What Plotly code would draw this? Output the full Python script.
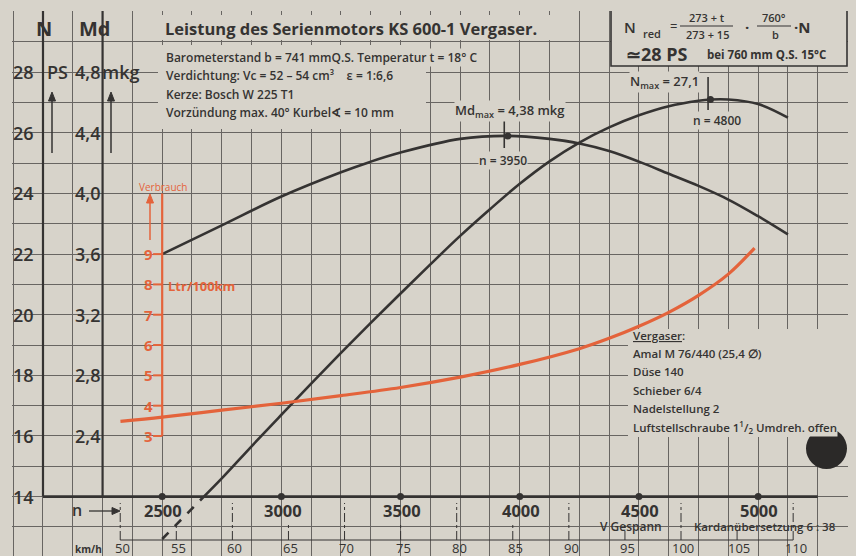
import plotly.graph_objects as go

# ---------------- data ----------------
# engine power N [PS] vs engine speed n [U/min]; first segment (below 14 PS) is dashed
n_rpm = [2500, 2675, 2750, 2875, 3000, 3125, 3250, 3375, 3500, 3625, 3750, 3875,
         4000, 4125, 4250, 4375, 4500, 4625, 4750, 4800, 4875, 5000, 5125]
n_ps = [12.6, 14.0, 14.6, 15.66, 16.7, 17.73, 18.74, 19.73, 20.7, 21.66, 22.6, 23.48,
        24.32, 25.06, 25.68, 26.18, 26.58, 26.88, 27.06, 27.1, 27.1, 26.95, 26.5]

# torque Md [mkg]
md_rpm = [2500, 2750, 3000, 3250, 3375, 3500, 3750, 3950, 4125, 4250, 4375, 4500,
          4625, 4750, 4875, 5000, 5125]
md_mkg = [3.60, 3.79, 3.98, 4.14, 4.21, 4.27, 4.36, 4.38, 4.36, 4.33, 4.28, 4.21,
          4.13, 4.05, 3.96, 3.85, 3.73]

# fuel consumption [Ltr/100km]
v_rpm = [2325, 2500, 2750, 3000, 3250, 3500, 3750, 4000, 4250, 4375, 4500, 4625,
         4750, 4875, 4985]
v_l = [3.48, 3.62, 3.85, 4.08, 4.33, 4.6, 4.94, 5.36, 5.88, 6.22, 6.62, 7.08,
       7.64, 8.34, 9.2]

n_max_rpm, n_max_ps = 4800, 27.1
md_max_rpm, md_max_mkg = 3950, 4.38

rpm_ticks = [2500, 3000, 3500, 4000, 4500, 5000]
ps_ticks = [14, 16, 18, 20, 22, 24, 26, 28]
md_ticks = [2.4, 2.8, 3.2, 3.6, 4.0, 4.4, 4.8]
v_ticks = [3, 4, 5, 6, 7, 8, 9]
kmh_ticks = [50, 55, 60, 65, 70, 75, 80, 85, 90, 95, 100, 105, 110]

# ---------------- scale relations of the original sheet ----------------
MD_PER_PS, MD_OFF = 0.2, -0.8          # Md = 0.2*N - 0.8  (28 PS <-> 4,8 mkg)
V_OFF = 13                             # N = Verbrauch + 13 (9 l <-> 22 PS)
KMH0_RPM, RPM_PER_KMH = 2324, 47.05    # V Gespann, Kardanuebersetzung 6:38


def kmh2rpm(k):
    return KMH0_RPM + (k - 50) * RPM_PER_KMH


# ---------------- styling ----------------
PAPER = "#d7d3ca"
GRID = "#686562"
INK = "#353332"
ORANGE = "#e4633b"
FONT = "Open Sans"

W, H = 856, 556
ML, MR, MT, MB = 12, 8, 11, 0
XR = [1870, 5377]
YR = [12.04, 30.02]


def X(px):
    return XR[0] + (px - ML) / (W - ML - MR) * (XR[1] - XR[0])


def Y(py):
    return YR[1] - (py - MT) / (H - MT - MB) * (YR[1] - YR[0])


fig = go.Figure()

SPL = dict(shape="spline", smoothing=1.0)
fig.add_trace(go.Scatter(x=n_rpm[:2], y=n_ps[:2], mode="lines",
                         line=dict(color=INK, width=2.6, dash="dash")))
fig.add_trace(go.Scatter(x=n_rpm[1:], y=n_ps[1:], mode="lines",
                         line=dict(color=INK, width=2.6, **SPL)))
fig.add_trace(go.Scatter(x=md_rpm, y=md_mkg, yaxis="y3", mode="lines",
                         line=dict(color=INK, width=2.6, **SPL)))
fig.add_trace(go.Scatter(x=v_rpm, y=v_l, yaxis="y2", mode="lines",
                         line=dict(color=ORANGE, width=3.2, **SPL)))
fig.add_trace(go.Scatter(x=[n_max_rpm], y=[n_max_ps], mode="markers",
                         marker=dict(color=INK, size=7)))
fig.add_trace(go.Scatter(x=[md_max_rpm], y=[md_max_mkg], yaxis="y3", mode="markers",
                         marker=dict(color=INK, size=7)))
fig.add_trace(go.Scatter(x=rpm_ticks, y=[ps_ticks[0]] * len(rpm_ticks), mode="markers",
                         marker=dict(color=INK, size=7)))

shapes = []
for (a, b, c, d) in [(135, 567, 15, 40), (158, 426, 45, 129), (628, 848, 329, 437)]:
    shapes.append(dict(type="rect", xref="x", yref="y", x0=X(a), x1=X(b), y0=Y(d), y1=Y(c),
                       fillcolor=PAPER, line=dict(width=0), layer="between"))
shapes.append(dict(type="rect", xref="x", yref="y", x0=X(611), x1=X(847), y0=Y(66), y1=Y(10),
                   fillcolor=PAPER, line=dict(color=INK, width=1.6), layer="between"))
for (a, b) in [(680, 733), (757, 791)]:
    shapes.append(dict(type="line", xref="x", yref="y", x0=X(a), x1=X(b), y0=Y(26), y1=Y(26),
                       line=dict(color=INK, width=1.2)))
for xv in (2000, 2250):
    shapes.append(dict(type="line", xref="x", yref="y", x0=xv, x1=xv, y0=ps_ticks[0], y1=YR[1],
                       line=dict(color=INK, width=2.2)))
shapes.append(dict(type="line", xref="x", yref="y", x0=2000, x1=5250, y0=ps_ticks[0], y1=ps_ticks[0],
                   line=dict(color=INK, width=2.6)))
shapes.append(dict(type="line", xref="x", yref="y2", x0=2500, x1=2500, y0=v_ticks[0], y1=11,
                   line=dict(color=ORANGE, width=2.2)))
for v in v_ticks:
    shapes.append(dict(type="line", xref="x", yref="y2", x0=2462, x1=2500, y0=v, y1=v,
                       line=dict(color=ORANGE, width=2)))
shapes.append(dict(type="line", xref="x", yref="y", x0=n_max_rpm - 10, x1=n_max_rpm - 10,
                   y0=Y(110), y1=Y(77), line=dict(color=INK, width=1.6)))
shapes.append(dict(type="line", xref="x", yref="y", x0=md_max_rpm - 15, x1=md_max_rpm - 15,
                   y0=Y(148), y1=Y(119), line=dict(color=INK, width=1.6)))
shapes.append(dict(type="line", xref="x", yref="y", x0=kmh2rpm(kmh_ticks[0]), x1=kmh2rpm(kmh_ticks[-1]),
                   y0=Y(540), y1=Y(540), line=dict(color=INK, width=1)))
for k in kmh_ticks:
    top = 503 if k % 10 == 0 else 522
    shapes.append(dict(type="line", xref="x", yref="y", x0=kmh2rpm(k), x1=kmh2rpm(k),
                       y0=Y(540), y1=Y(top), line=dict(color=INK, width=1, dash="dashdot")))
shapes.append(dict(type="circle", xref="x", yref="y", x0=X(806), x1=X(847), y0=Y(469), y1=Y(428),
                   fillcolor="#2b2928", line=dict(width=0), layer="above"))


def varrow(px, ptop, pbot, col):
    shapes.append(dict(type="line", xref="x", yref="y", x0=X(px), x1=X(px), y0=Y(pbot), y1=Y(ptop + 6),
                       line=dict(color=col, width=1.5)))
    shapes.append(dict(type="path", xref="x", yref="y",
                       path=f"M {X(px - 3.5)} {Y(ptop + 9)} L {X(px)} {Y(ptop)} L {X(px + 3.5)} {Y(ptop + 9)} Z",
                       fillcolor=col, line=dict(color=col, width=1)))


varrow(52, 92, 153, INK)
varrow(111, 92, 153, INK)
varrow(150, 194, 240, ORANGE)
shapes.append(dict(type="line", xref="x", yref="y", x0=X(89), x1=X(115), y0=Y(511), y1=Y(511),
                   line=dict(color=INK, width=1.3)))
shapes.append(dict(type="path", xref="x", yref="y",
                   path=f"M {X(112)} {Y(507.5)} L {X(120)} {Y(511)} L {X(112)} {Y(514.5)} Z",
                   fillcolor=INK, line=dict(color=INK, width=1)))

ann = []


def T(px, py, text, size=12, color=INK, xanchor="center", bg=None, weight=None, x=None, y=None,
      yref="y"):
    f = dict(size=size, color=color, family=FONT)
    if weight:
        f["weight"] = weight
    d = dict(x=X(px) if x is None else x, y=Y(py) if y is None else y, xref="x", yref=yref,
             text=text, showarrow=False, font=f, xanchor=xanchor, yanchor="middle", borderpad=0)
    if bg:
        d["bgcolor"] = bg
    ann.append(d)


T(351, 28, "<b>Leistung des Serienmotors KS 600-1 Vergaser.</b>", size=16.5)
T(44, 28, "<b>N</b>", size=20)
T(95, 28, "<b>Md</b>", size=20)

info = ["Barometerstand b = 741 mmQ.S. Temperatur t = 18° C",
        "Verdichtung: Vc = 52 – 54 cm³\u00a0\u00a0\u00a0 ε = 1:6,6",
        "Kerze: Bosch W 225 T1",
        "Vorzündung max. 40° Kurbel∢ = 10 mm"]
for i, s in enumerate(info):
    T(165, 57 + i * 18.5, s, size=12, xanchor="left", bg=PAPER if i == 0 else None, weight=600)

T(630, 27, "N", size=15, weight=600)
T(652, 33, "red", size=11, weight=600)
T(673, 26, "=", size=13)
T(707, 17, "273 + t", size=11, weight=600)
T(707, 34, "273 + 15", size=11, weight=600)
T(747, 27, "·", size=15, weight=700)
T(774, 17, "760°", size=11, weight=600)
T(775, 34, "b", size=11, weight=600)
T(802, 27, "·N", size=15, weight=700)
T(657, 54, "<b>≃28 PS</b>", size=18)
T(766, 54, "bei 760 mm Q.S. 15°C", size=11.5, weight=700)

for v in ps_ticks:
    T(0, 0, str(v), size=18, x=X(23), y=v, weight=600)
for m in md_ticks:
    T(0, 0, f"{m:.1f}".replace(".", ","), size=18, x=X(87), y=m, yref="y3", weight=600)
T(57, 72, "PS", size=18, weight=600)
T(120, 72, "mkg", size=18, weight=600)

for v in v_ticks:
    T(0, 0, f"<b>{v}</b>", size=15, color=ORANGE, x=X(148), y=v, yref="y2")
T(167, 286, "<b>Ltr/100km</b>", size=13, color=ORANGE, xanchor="left")
T(163, 187, "Verbrauch", size=10, color=ORANGE)

T(510, 111, "Md<sub>max</sub> = 4,38 mkg", size=13, bg=PAPER, weight=600)
T(503, 160, "n = 3950", size=12, bg=PAPER, weight=600)
T(664, 82, "N<sub>max</sub> = 27,1", size=13, bg=PAPER, weight=600)
T(717, 120, "n = 4800", size=12, bg=PAPER, weight=600)

verg = ["<u>Vergaser</u>:", "Amal M 76/440 (25,4 ∅)", "Düse 140", "Schieber 6/4",
        "Nadelstellung 2", "Luftstellschraube 1<sup>1</sup>/<sub>2</sub> Umdreh. offen"]
for i, s in enumerate(verg):
    T(632, 335 + i * 18.4, s, size=11.5, xanchor="left", bg=PAPER if i == 5 else None, weight=600)

T(77, 510, "n", size=16, weight=600)
for r in rpm_ticks:
    T(0, 0, f"<b>{r}</b>", size=16.5, x=r + 5, y=Y(510))
for k in kmh_ticks:
    T(0, 0, str(k), size=13, x=kmh2rpm(k) + 10, y=Y(548))
T(88, 549, "<b>km/h</b>", size=10)
T(631, 526, "V Gespann", size=12, weight=600)
T(765, 526, "Kardanübersetzung 6 : 38", size=11.5, weight=600)

fig.update_layout(
    width=W, height=H, margin=dict(l=ML, r=MR, t=MT, b=MB),
    paper_bgcolor=PAPER, plot_bgcolor=PAPER, showlegend=False,
    xaxis=dict(range=XR, tick0=1875, dtick=125, showgrid=True, gridcolor=GRID, gridwidth=1,
               showticklabels=False, ticks="", zeroline=False, showline=False, fixedrange=True),
    yaxis=dict(range=YR, tick0=12, dtick=1, showgrid=True, gridcolor=GRID, gridwidth=1,
               showticklabels=False, ticks="", zeroline=False, showline=False, fixedrange=True),
    yaxis2=dict(overlaying="y", range=[YR[0] - V_OFF, YR[1] - V_OFF], visible=False, fixedrange=True),
    yaxis3=dict(overlaying="y", range=[YR[0] * MD_PER_PS + MD_OFF, YR[1] * MD_PER_PS + MD_OFF],
                visible=False, fixedrange=True),
    shapes=shapes, annotations=ann,
)

fig.write_html("out.html", config={"displayModeBar": False},
               post_script="document.body.style.margin='0';document.body.style.background='" + PAPER + "';")
